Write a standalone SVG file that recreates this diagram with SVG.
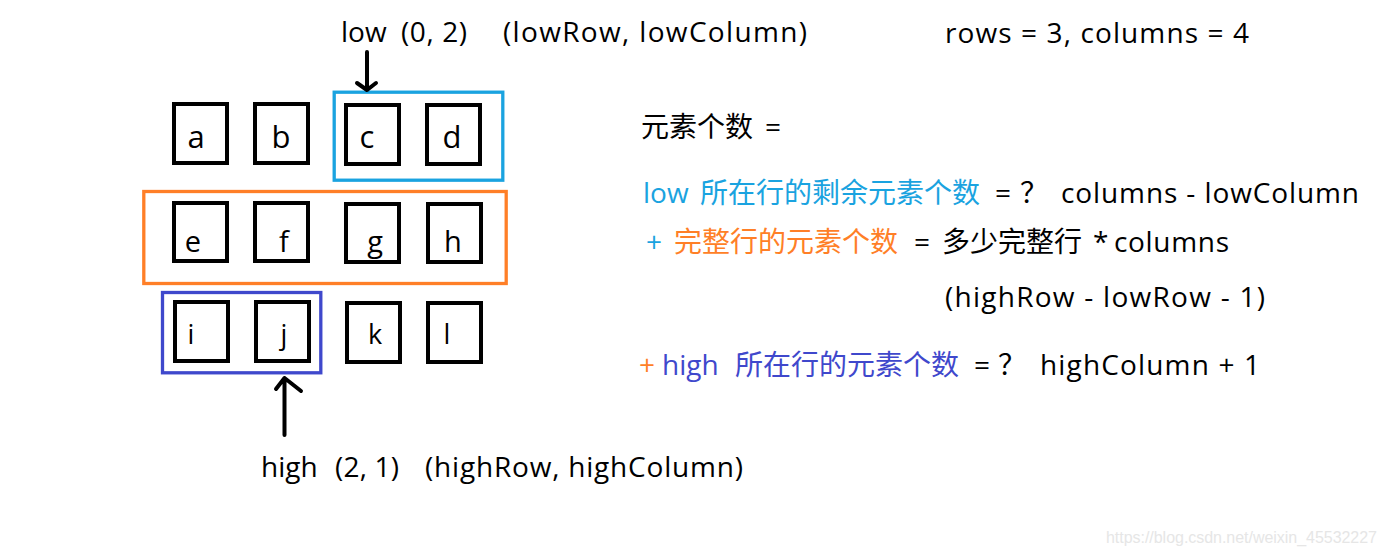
<svg xmlns="http://www.w3.org/2000/svg" width="1387" height="556" viewBox="0 0 1387 556">
<style>
text{font-family:"Open Sans","Noto Sans CJK SC",sans-serif;font-size:28px;fill:#000}
.cjk{font-family:"Noto Sans CJK SC",sans-serif}
.cell rect{fill:none;stroke:#000;stroke-width:4}
.cell text{text-anchor:middle}
.blue{fill:#1aa3e0}
.orange{fill:#ff7f27}
.purple{fill:#3f48cc}
.arrow{fill:none;stroke:#000;stroke-width:4;stroke-linecap:round;stroke-linejoin:round}
</style>
<rect width="1387" height="556" fill="#fff"/>

<!-- group boxes -->
<g id="lowGroup"><rect x="334.2" y="92.2" width="168.6" height="88" fill="none" stroke="#1aa3e0" stroke-width="3.3"/></g>
<g id="fullRows"><rect x="143.8" y="191.5" width="362.4" height="92" fill="none" stroke="#ff7f27" stroke-width="3.3"/></g>
<g id="highGroup"><rect x="162.5" y="292.5" width="158.3" height="80.3" fill="none" stroke="#3f48cc" stroke-width="3.3"/></g>

<!-- cells row 0 -->
<g id="cell-a" class="cell"><rect x="174" y="104" width="53" height="59"/><text x="196" y="148" style="font-size:31px">a</text></g>
<g id="cell-b" class="cell"><rect x="255" y="104" width="53" height="59"/><text x="281" y="148" style="font-size:31px">b</text></g>
<g id="cell-c" class="cell"><rect x="346" y="105" width="53" height="59"/><text x="367" y="148" style="font-size:31px">c</text></g>
<g id="cell-d" class="cell"><rect x="427" y="105" width="53" height="59"/><text x="452" y="148" style="font-size:31px">d</text></g>
<!-- row 1 -->
<g id="cell-e" class="cell"><rect x="174" y="203" width="53" height="58"/><text x="193" y="251.7" style="font-size:29px">e</text></g>
<g id="cell-f" class="cell"><rect x="255" y="203" width="53" height="58"/><text x="284" y="251.7" style="font-size:29px">f</text></g>
<g id="cell-g" class="cell"><rect x="346" y="204" width="53" height="58"/><text x="375" y="252" style="font-size:29px">g</text></g>
<g id="cell-h" class="cell"><rect x="428" y="204" width="53" height="58"/><text x="453" y="252" style="font-size:29px">h</text></g>
<!-- row 2 -->
<g id="cell-i" class="cell"><rect x="175" y="302" width="53" height="59"/><text x="191" y="344.3" style="font-size:27px">i</text></g>
<g id="cell-j" class="cell"><rect x="256" y="302" width="53" height="59"/><text x="284" y="344.3" style="font-size:27px">j</text></g>
<g id="cell-k" class="cell"><rect x="347" y="303" width="53" height="59"/><text x="375" y="344.3" style="font-size:27px">k</text></g>
<g id="cell-l" class="cell"><rect x="428" y="303" width="53" height="59"/><text x="447" y="344.3" style="font-size:27px">l</text></g>

<!-- connectors -->
<g id="connectors">
<path class="arrow" d="M367,52 L367,90 M357,83 L367,90 L376,83"/>
<path class="arrow" d="M284.5,435 L284.5,378 M276,389 L284.5,378 L301,391"/>
</g>

<!-- labels -->
<g id="lowLabel">
<text x="341" y="41.7">low</text>
<text x="401" y="41.7" textLength="66" lengthAdjust="spacing">(0, 2)</text>
<text x="503" y="41.7" textLength="304" lengthAdjust="spacing">(lowRow, lowColumn)</text>
</g>
<g id="highLabel">
<text x="261" y="476.7">high</text>
<text x="335" y="476.7" textLength="64" lengthAdjust="spacing">(2, 1)</text>
<text x="425" y="476.7" textLength="318" lengthAdjust="spacing">(highRow, highColumn)</text>
</g>
<g id="dims"><text x="945" y="43.3" textLength="304" lengthAdjust="spacing">rows = 3, columns = 4</text></g>

<g id="formula">
<text x="641" y="137" class="cjk">元素个数</text>
<text x="765" y="137">=</text>

<text x="643" y="203.3" class="blue">low</text>
<text x="700" y="203.3" class="cjk blue">所在行的剩余元素个数</text>
<text x="995" y="203.3">=</text>
<text x="1020" y="203.3" class="cjk">？</text>
<text x="1061" y="203.3" textLength="298" lengthAdjust="spacing">columns - lowColumn</text>

<text x="646" y="251.7" class="blue">+</text>
<text x="674" y="251.7" class="cjk orange">完整行的元素个数</text>
<text x="914" y="251.7">=</text>
<text x="942" y="251.7" class="cjk">多少完整行</text>
<text x="1093" y="251.7">*</text>
<text x="1114" y="251.7" textLength="115" lengthAdjust="spacing">columns</text>

<text x="945" y="306.7" textLength="320" lengthAdjust="spacing">(highRow - lowRow - 1)</text>

<text x="639" y="375" class="orange">+</text>
<text x="662" y="375" class="purple">high</text>
<text x="735" y="375" class="cjk purple">所在行的元素个数</text>
<text x="974" y="375">=</text>
<text x="998" y="375" class="cjk">？</text>
<text x="1040" y="375" textLength="220" lengthAdjust="spacing">highColumn + 1</text>
</g>

<text x="1106" y="543.3" textLength="271" lengthAdjust="spacing" style="font-family:'Liberation Sans',Arial,sans-serif;font-size:16px;fill:#e6e6e6">https://blog.csdn.net/weixin_45532227</text>
</svg>
